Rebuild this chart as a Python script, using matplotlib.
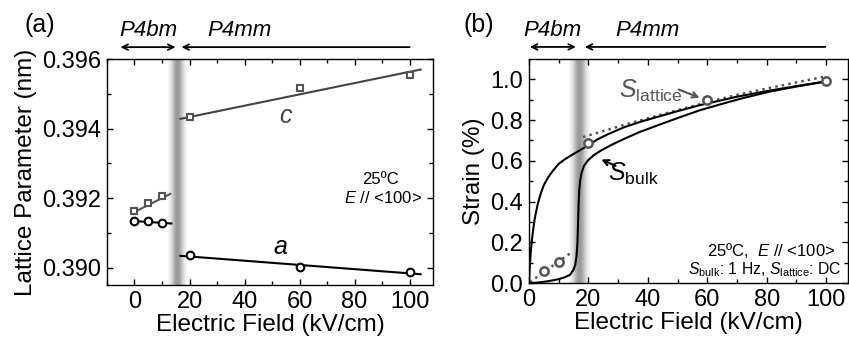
import numpy as np
import matplotlib
matplotlib.use("Agg")
import matplotlib.pyplot as plt

plt.rcParams['font.family'] = ['Liberation Sans', 'DejaVu Sans']
plt.rcParams['mathtext.fontset'] = 'custom'
plt.rcParams['mathtext.rm'] = 'Liberation Sans'
plt.rcParams['mathtext.it'] = 'Liberation Sans:italic'

# ---- panel (a): lattice parameters (nm) ----
field_p4bm = [0, 5, 10]
c_p4bm = [0.39162, 0.39186, 0.39205]
a_p4bm = [0.39133, 0.39133, 0.39128]
field_p4mm = [20, 60, 100]
c_p4mm = [0.39433, 0.39516, 0.39555]
a_p4mm = [0.39035, 0.39003, 0.38988]
# fitted lines (end points)
c_fit1_x, c_fit1_y = [0, 13], [0.39160, 0.39212]
a_fit1_x, a_fit1_y = [0, 13.4], [0.39134, 0.39127]
c_fit2_x, c_fit2_y = [16.7, 104], [0.39428, 0.39570]
a_fit2_x, a_fit2_y = [16.7, 104], [0.39034, 0.38981]

# ---- panel (b): strain (%) ----
lat_x1 = [5, 10]
lat_y1 = [0.06, 0.105]
lat_fit1_x, lat_fit1_y = [0.3, 13.8], [0.005, 0.145]
lat_x2 = [20, 60, 100]
lat_y2 = [0.687, 0.897, 0.993]
lat_fit2_x = [18.2, 22, 26.6, 32, 37.8, 49, 60, 70, 80, 90, 100]
lat_fit2_y = [0.717, 0.733, 0.753, 0.777, 0.80, 0.845, 0.888, 0.924, 0.955, 0.985, 1.015]
bulk_up_x = [0, 0.3, 0.6, 1.0, 1.5, 2.0, 3.0, 4.0, 5.0, 6.5, 8.0, 10, 12, 14, 15.4, 17.5,
             19.8, 23, 26.5, 32, 37.8, 49, 57.4, 70, 81, 90, 100]
bulk_up_y = [0, 0.08, 0.15, 0.21, 0.27, 0.32, 0.39, 0.44, 0.48, 0.52, 0.55, 0.585, 0.607,
             0.625, 0.637, 0.655, 0.675, 0.705, 0.73, 0.765, 0.793, 0.84, 0.873, 0.915,
             0.945, 0.967, 0.99]
bulk_lo_x = [0, 2, 4, 6, 8, 10, 12, 13.8, 15.0, 15.6, 16.0, 16.3, 16.5, 16.7, 16.9, 17.2,
             17.7, 18.5, 19.9, 22, 24.4, 28, 32.2, 37, 43.4, 50, 57.4, 65, 72, 81, 90, 100]
bulk_lo_y = [0, 0.001, 0.004, 0.008, 0.013, 0.019, 0.028, 0.04, 0.065, 0.09, 0.13, 0.19,
             0.28, 0.38, 0.45, 0.50, 0.54, 0.575, 0.603, 0.63, 0.652, 0.68, 0.709, 0.74,
             0.775, 0.81, 0.848, 0.88, 0.908, 0.94, 0.965, 0.99]

band_a = (15.6, 3.4)
band_b = (17.0, 3.4)

fig = plt.figure(figsize=(8.49, 3.47), dpi=100)
ax1 = fig.add_axes([0.126, 0.1787, 0.384, 0.651])
ax2 = fig.add_axes([0.623, 0.1844, 0.3757, 0.6455])

t = np.linspace(-1, 1, 201)
grad = (1 - 0.4 * np.exp(-(t / 0.62) ** 2))[None, :]


def style(ax):
    ax.tick_params(direction='in', which='both', top=True, right=True, labelsize=17,
                   width=1, pad=4)
    ax.tick_params(which='major', length=4)
    ax.tick_params(which='minor', length=3)
    for s in ax.spines.values():
        s.set_linewidth(1)


# panel (a)
ax1.imshow(grad, extent=[band_a[0] - band_a[1], band_a[0] + band_a[1], 0.3895, 0.396],
           aspect='auto', cmap='gray', vmin=0, vmax=1, zorder=0)
ax1.plot(c_fit1_x, c_fit1_y, color='#555555', lw=1.5)
ax1.plot(a_fit1_x, a_fit1_y, color='black', lw=1.5)
ax1.plot(c_fit2_x, c_fit2_y, color='#444444', lw=1.5)
ax1.plot(a_fit2_x, a_fit2_y, color='black', lw=1.5)
ax1.plot(field_p4bm, c_p4bm, 's', mfc='white', mec='#555555', ms=5, mew=1.5)
ax1.plot(field_p4mm, c_p4mm, 's', mfc='white', mec='#555555', ms=5, mew=1.5)
ax1.plot(field_p4bm, a_p4bm, 'o', mfc='white', mec='black', ms=5.5, mew=1.5)
ax1.plot(field_p4mm, a_p4mm, 'o', mfc='white', mec='black', ms=5.5, mew=1.5)
ax1.set_xlim(-10, 108.5)
ax1.set_ylim(0.3895, 0.396)
ax1.set_xticks([0, 20, 40, 60, 80, 100])
ax1.set_xticks(np.arange(-10, 110, 10), minor=True)
ax1.set_yticks([0.390, 0.392, 0.394, 0.396])
ax1.set_yticks([0.389 + 0.001 * i for i in range(1, 8)], minor=True)
ax1.set_yticklabels(['0.390', '0.392', '0.394', '0.396'])
style(ax1)
ax1.set_xlabel('Electric Field (kV/cm)', fontsize=17.5, labelpad=1)
ax1.set_ylabel('Lattice Parameter (nm)', fontsize=17.5, labelpad=4)
ax1.text(54.8, 0.39437, 'c', fontsize=18, style='italic', color='#444444',
         ha='center', va='center')
ax1.text(53, 0.39060, 'a', fontsize=18, style='italic', ha='center', va='center')
ax1.text(89.4, 0.39254, '25ºC', fontsize=12, ha='center', va='center')
ax1.text(90.5, 0.39200, r'$E$ // <100>', fontsize=12, ha='center', va='center')

# panel (b)
ax2.imshow(grad, extent=[band_b[0] - band_b[1], band_b[0] + band_b[1], 0, 1.1],
           aspect='auto', cmap='gray', vmin=0, vmax=1, zorder=0)
ax2.plot(lat_fit1_x, lat_fit1_y, ':', color='#555555', lw=1.8)
ax2.plot(lat_fit2_x, lat_fit2_y, ':', color='#555555', lw=1.8)
ax2.plot(bulk_up_x, bulk_up_y, color='black', lw=1.5)
ax2.plot(bulk_lo_x, bulk_lo_y, color='black', lw=1.5)
ax2.plot(lat_x1, lat_y1, 'o', mfc='white', mec='#555555', ms=6, mew=1.8)
ax2.plot(lat_x2, lat_y2, 'o', mfc='white', mec='#555555', ms=6, mew=1.8)
ax2.set_xlim(0, 107.3)
ax2.set_ylim(0, 1.1)
ax2.set_xticks([0, 20, 40, 60, 80, 100])
ax2.set_xticks(np.arange(0, 110, 10), minor=True)
ax2.set_yticks([0, 0.2, 0.4, 0.6, 0.8, 1.0])
ax2.set_yticks(np.arange(0.1, 1.1, 0.2), minor=True)
ax2.set_yticklabels(['0.0', '0.2', '0.4', '0.6', '0.8', '1.0'])
style(ax2)
ax2.set_xlabel('Electric Field (kV/cm)', fontsize=17.5, labelpad=1)
ax2.set_ylabel('Strain (%)', fontsize=17.5, labelpad=4)
ax2.text(41, 0.945, r'$S_{\mathrm{lattice}}$', fontsize=18, color='#555555',
         ha='center', va='center')
ax2.annotate('', xy=(58.3, 0.905), xytext=(49.5, 0.955),
             arrowprops=dict(arrowstyle='->', color='#555555', lw=1.5))
ax2.text(35, 0.535, r'$S_{\mathrm{bulk}}$', fontsize=18, ha='center', va='center')
ax2.annotate('', xy=(23.5, 0.612), xytext=(30, 0.57),
             arrowprops=dict(arrowstyle='->', color='black', lw=1.5))
ax2.text(81.5, 0.16, r'25ºC,  $E$ // <100>', fontsize=12, ha='center', va='center')
ax2.text(79.5, 0.065, r'$S_{\mathrm{bulk}}$: 1 Hz, $S_{\mathrm{lattice}}$: DC',
         fontsize=11.3, ha='center', va='center')

# phase arrows above the panels
for ax, bm, mm, ty in [(ax1, (-5.1, 14.9), (100, 17.1), 1.053),
                       (ax2, (0.3, 15.8), (99.7, 18.8), 1.054)]:
    tr = ax.get_xaxis_transform()
    ax.annotate('', xy=(bm[1], ty), xytext=(bm[0], ty), xycoords=tr, textcoords=tr,
                arrowprops=dict(arrowstyle='<->', lw=1.3, color='black',
                                shrinkA=0, shrinkB=0), annotation_clip=False)
    ax.annotate('', xy=(mm[1], ty), xytext=(mm[0], ty), xycoords=tr, textcoords=tr,
                arrowprops=dict(arrowstyle='->', lw=1.3, color='black',
                                shrinkA=0, shrinkB=0), annotation_clip=False)
    ax.text((bm[0] + bm[1]) / 2, ty + 0.075, 'P4bm', transform=tr, fontsize=16,
            style='italic', ha='center', va='center')
    ax.text(mm[1] + 21, ty + 0.075, 'P4mm', transform=tr, fontsize=16,
            style='italic', ha='center', va='center')

fig.text(0.047, 0.928, '(a)', fontsize=18, ha='center', va='center')
fig.text(0.564, 0.928, '(b)', fontsize=18, ha='center', va='center')

fig.savefig('out.png', dpi=100)
